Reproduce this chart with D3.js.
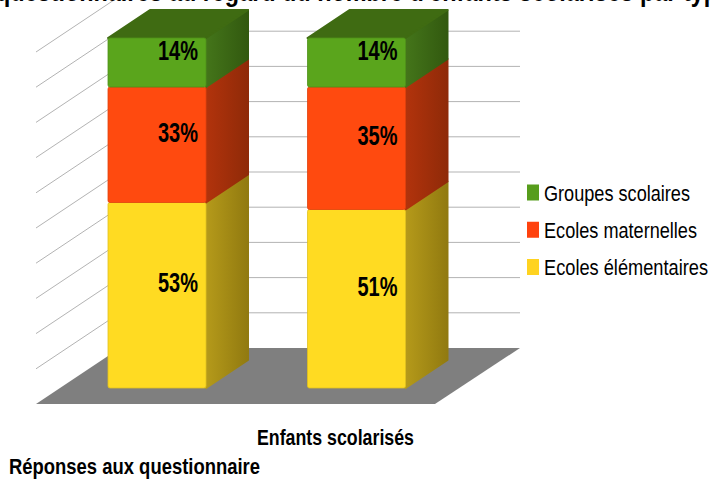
<!DOCTYPE html>
<html><head><meta charset="utf-8">
<script src="https://cdn.jsdelivr.net/npm/d3@7"></script>
<style>html,body{margin:0;padding:0;background:#fff;overflow:hidden}svg{display:block}
text{font-family:"Liberation Sans",sans-serif}</style></head>
<body><div id="c"></div>
<script>
const chartTitle = "questionnaires au regard du nombre d'enfants scolarisés par type";
const xTitle = "Enfants scolarisés";
const footnote = "Réponses aux questionnaire";
const categories = ["Réponses aux questionnaire", "Enfants scolarisés"];
const seriesNames = ["Ecoles élémentaires", "Ecoles maternelles", "Groupes scolaires"];
const ecolesElementaires = [53, 51];
const ecolesMaternelles = [33, 35];
const groupesScolaires = [14, 14];
const seriesValues = [ecolesElementaires, ecolesMaternelles, groupesScolaires];
const gridTicks = [10,20,30,40,50,60,70,80,90,100];
const frontColors = ["#ffdb22", "#ff4a0f", "#5aa51c"];
const sideColors = [["#b59a1a","#917a10"], ["#b2330c","#8f2a08"], ["#44751a","#32590f"]];
const topColors = ["#ccae1a", "#c83a0c", "#3f6b12"];
const legendColors = ["#ffd320", "#ff420e", "#579d1c"];
const legendWidths = [164, 153, 146];

const W=710,H=479;
const svg=d3.select("#c").append("svg").attr("width",W).attr("height",H);
const defs=svg.append("defs");
sideColors.forEach((c,i)=>{
  const g=defs.append("linearGradient").attr("id","side"+i).attr("x1",0).attr("x2",1).attr("y1",0).attr("y2",0);
  g.append("stop").attr("offset","0%").attr("stop-color",c[0]);
  g.append("stop").attr("offset","100%").attr("stop-color",c[1]);
});

const floorFrontLeft=[36,404], floorBack=348, wallDx=84, floorFrontRight=435, floorBackRight=520;
const wallY=d3.scaleLinear().domain([0,100]).range([0,-352]);
const barY=d3.scaleLinear().domain([0,100]).range([388,38]);
const barX=d3.scaleBand().domain(categories).range([108,108+2*199.5]).paddingInner(0);
const barW=98, depthX=42, depthY=28;

gridTicks.forEach(t=>{
  const d=wallY(t);
  svg.append("path").attr("fill","none").attr("stroke","#b3b3b3").attr("stroke-width",1)
    .attr("d",d3.line()([[floorFrontLeft[0],floorFrontLeft[1]+d],[floorFrontLeft[0]+wallDx,floorBack+d],[floorBackRight,floorBack+d]]));
});
svg.append("path").attr("fill","#7f7f7f").attr("d",d3.line()([
  floorFrontLeft,[floorFrontLeft[0]+wallDx,floorBack],[floorBackRight,floorBack],[floorFrontRight,floorFrontLeft[1]]
])+"Z");

categories.forEach((cat,ci)=>{
  const x0=barX(cat);
  let cum=0;
  const segs=seriesValues.map((s,si)=>{const a=cum;cum+=s[ci];return {si,a,b:cum,v:s[ci]};});
  segs.forEach(s=>{
    const y0=barY(s.a),y1=barY(s.b),x1=x0+barW;
    const g=svg.append("g");
    g.append("path").attr("fill",`url(#side${s.si})`).attr("stroke",`url(#side${s.si})`).attr("stroke-linejoin","round").attr("stroke-width",2)
     .attr("d",d3.line()([[x1,y0],[x1+depthX,y0-depthY],[x1+depthX,y1-depthY],[x1,y1]])+"Z");
    if(s.si===2) g.append("path").attr("fill",topColors[s.si]).attr("stroke",topColors[s.si]).attr("stroke-linejoin","round").attr("stroke-width",2)
     .attr("d",d3.line()([[x0,y1],[x0+depthX,y1-depthY],[x1+depthX,y1-depthY],[x1,y1]])+"Z");
  });
  segs.forEach(s=>{
    const y0=barY(s.a),y1=barY(s.b);
    svg.append("rect").attr("x",x0).attr("y",y1).attr("width",barW).attr("height",y0-y1).attr("rx",2)
      .attr("fill",frontColors[s.si]).attr("stroke",d3.color(frontColors[s.si]).darker(0.35)).attr("stroke-width",0.8);
  });
  segs.forEach(s=>{
    const y0=barY(s.a),y1=barY(s.b);
    svg.append("text").attr("x",x0+barW/2+depthX/2).attr("y",(y0+y1)/2-depthY/2+11)
      .attr("text-anchor","middle").attr("font-size",27).attr("font-weight","bold").attr("fill","#000")
      .attr("textLength",40).attr("lengthAdjust","spacingAndGlyphs").text(s.v+"%");
  });
});

const legendOrder=[2,1,0], legendY=d3.scalePoint().domain(legendOrder).range([192.5,267]);
legendOrder.forEach(i=>{
  const y=legendY(i);
  svg.append("rect").attr("x",527).attr("y",y-8).attr("width",12).attr("height",16).attr("fill",legendColors[i]);
  svg.append("text").attr("x",544).attr("y",y+8).attr("font-size",22).attr("fill","#000")
    .attr("textLength",legendWidths[i]).attr("lengthAdjust","spacingAndGlyphs").text(seriesNames[i]);
});

svg.append("text").attr("x",-4).attr("y",1).attr("font-size",28).attr("font-weight","bold")
  .attr("textLength",735).attr("lengthAdjust","spacingAndGlyphs").text(chartTitle);
svg.append("text").attr("x",257).attr("y",445).attr("font-size",22).attr("font-weight","bold")
  .attr("textLength",157).attr("lengthAdjust","spacingAndGlyphs").text(xTitle);
svg.append("text").attr("x",9).attr("y",474).attr("font-size",22).attr("font-weight","bold")
  .attr("textLength",251).attr("lengthAdjust","spacingAndGlyphs").text(footnote);
</script></body></html>
